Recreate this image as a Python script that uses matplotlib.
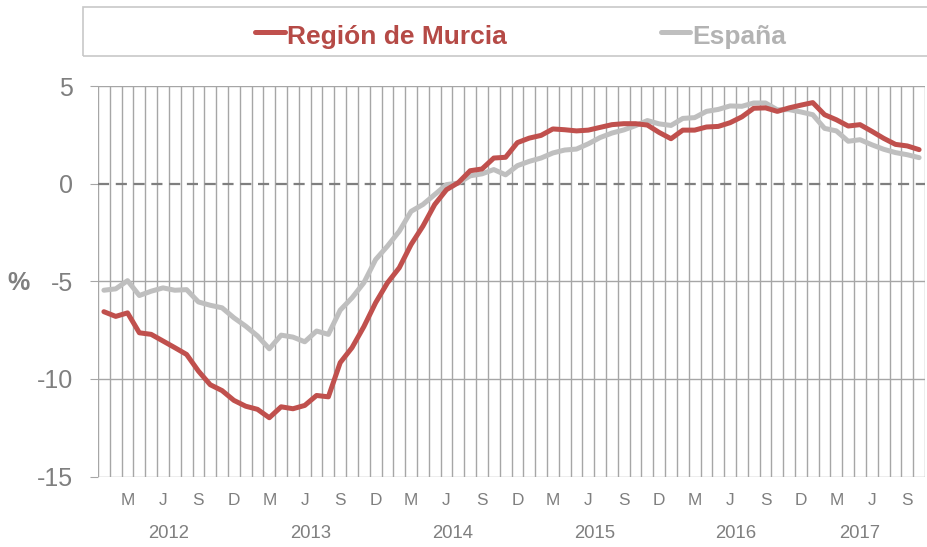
import numpy as np
import matplotlib
matplotlib.use("Agg")
import matplotlib.pyplot as plt
from matplotlib.patches import Rectangle
from matplotlib.lines import Line2D
import matplotlib.transforms as mtransforms

plt.rcParams['font.family'] = ['Liberation Sans', 'DejaVu Sans']

# --- DATA (monthly, Jan 2012 - Oct 2017) ---
murcia = [-6.56, -6.8, -6.62, -7.64, -7.72, -8.06, -8.4, -8.75, -9.6, -10.3,
          -10.6, -11.1, -11.4, -11.56, -11.99, -11.43, -11.53, -11.36, -10.85, -10.92,
          -9.17, -8.4, -7.33, -6.1, -5.08, -4.31, -3.12, -2.18, -1.07, -0.31,
          0.05, 0.66, 0.75, 1.31, 1.35, 2.1, 2.33, 2.47, 2.8, 2.76,
          2.7, 2.74, 2.88, 3.02, 3.07, 3.07, 3.0, 2.62, 2.3, 2.74,
          2.74, 2.9, 2.93, 3.12, 3.42, 3.86, 3.88, 3.7, 3.88, 4.02,
          4.15, 3.53, 3.27, 2.95, 3.02, 2.68, 2.32, 2.01, 1.93, 1.74]
espana = [-5.46, -5.39, -4.97, -5.73, -5.51, -5.34, -5.46, -5.43, -6.06, -6.23,
          -6.36, -6.87, -7.3, -7.8, -8.46, -7.76, -7.86, -8.1, -7.55, -7.72,
          -6.48, -5.85, -5.08, -3.89, -3.2, -2.44, -1.42, -1.07, -0.56, -0.05,
          0.03, 0.4, 0.5, 0.72, 0.45, 0.92, 1.14, 1.31, 1.57, 1.72,
          1.77, 2.04, 2.36, 2.59, 2.75, 2.97, 3.23, 3.06, 2.98, 3.34,
          3.38, 3.7, 3.8, 3.98, 3.96, 4.13, 4.13, 3.78, 3.79, 3.67,
          3.53, 2.83, 2.7, 2.17, 2.25, 1.99, 1.76, 1.59, 1.48, 1.33]
month_letters = ['E', 'F', 'M', 'A', 'M', 'J', 'J', 'A', 'S', 'O', 'N', 'D']
years = ['2012', '2013', '2014', '2015', '2016', '2017']
yticks = [5, 0, -5, -10, -15]

RED = '#c0504d'
GRAY_LINE = '#bfbfbf'
GRID = '#a6a6a6'
TXT = '#7f7f7f'

W, H = 927, 547
fig = plt.figure(figsize=(W / 100, H / 100), dpi=100)
ax = fig.add_axes([98 / W, 1 - 476.5 / H, 827 / W, (476.5 - 86) / H])

n = len(murcia)
x = np.arange(n)
ax.set_xlim(-0.5, n - 0.5)
ax.set_ylim(-15, 5)

# vertical grid at month boundaries, horizontal at ticks
for b in np.arange(-0.5, n, 1.0):
    ax.axvline(b, color=GRID, lw=1.0, zorder=1)
for yv in yticks:
    if yv == 0:
        ax.axhline(0, color='#7f7f7f', lw=1.6, ls=(0, (5, 3)), zorder=2)
    else:
        ax.axhline(yv, color=GRID, lw=1.0, zorder=1)

ax.plot(x, espana, color=GRAY_LINE, lw=3.6, solid_joinstyle='round',
        solid_capstyle='round', zorder=3)
ax.plot(x, murcia, color=RED, lw=3.6, solid_joinstyle='round',
        solid_capstyle='round', zorder=4)

for s in ax.spines.values():
    s.set_visible(False)

ax.set_yticks(yticks)
ax.set_yticklabels([str(v) for v in yticks])
ax.tick_params(axis='y', length=6, width=0.8, color=GRID, pad=12,
               labelsize=18, labelcolor=TXT)
ax.set_xticks([])

# month letters (Mar, Jun, Sep, Dec) and years
trans = mtransforms.blended_transform_factory(ax.transData, fig.transFigure)
for i in range(n):
    m = i % 12
    if m in (2, 5, 8, 11):
        ax.text(i, 1 - 500.7 / H, month_letters[m], transform=trans,
                ha='center', va='center', fontsize=12.4, color=TXT)
for k, yr in enumerate(years):
    first = k * 12
    last = min(first + 11, n - 2)
    ax.text((first + last) / 2, 1 - 534 / H, yr, transform=trans,
            ha='center', va='center', fontsize=13.3, color=TXT)

fig.text(18 / W, 1 - 283 / H, '%', ha='center', va='center',
         fontsize=18, fontweight='bold', color=TXT)

# legend box drawn at top
fig.patches.append(Rectangle((83 / W, 1 - 56 / H), (W + 5 - 83) / W, 49 / H,
                             transform=fig.transFigure, fill=False,
                             edgecolor='#c8c8c8', lw=1.2))
ly = 1 - 31.7 / H
fig.lines.append(Line2D([255 / W, 285 / W], [ly, ly], transform=fig.transFigure,
                        color=RED, lw=3.6, solid_capstyle='round'))
fig.text(287 / W, 1 - 44.3 / H, 'Región de Murcia', ha='left', va='baseline',
         fontsize=19, fontweight='bold', color='#b54a46')
fig.lines.append(Line2D([661 / W, 690 / W], [ly, ly], transform=fig.transFigure,
                        color=GRAY_LINE, lw=3.6, solid_capstyle='round'))
fig.text(692.5 / W, 1 - 44.3 / H, 'España', ha='left', va='baseline',
         fontsize=19, fontweight='bold', color='#b3b3b3')

fig.savefig('out.png', dpi=100)
